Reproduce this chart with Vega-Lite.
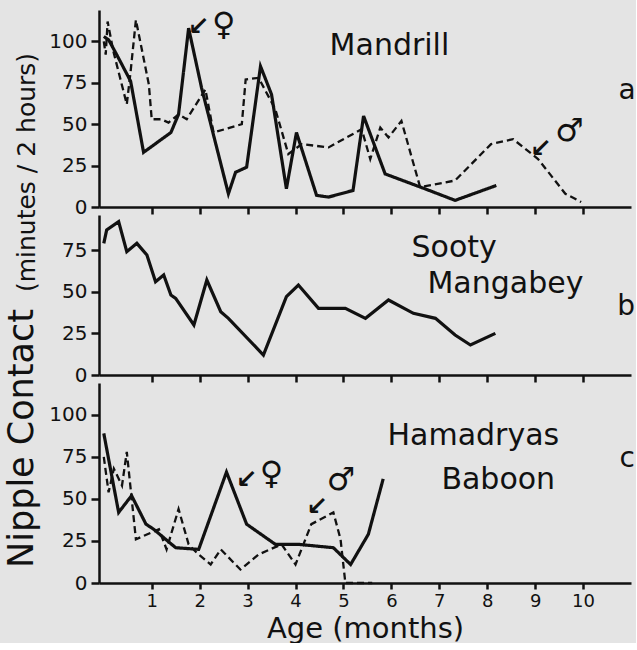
{
  "$schema": "https://vega.github.io/schema/vega-lite/v6.json",
  "background": "#e4e4e4",
  "padding": {"left": 4, "top": 8, "right": 0, "bottom": 0},
  "bounds": "flush",
  "spacing": 8,
  "datasets": {
    "mandrill": [
      {"age": 0.0, "contact": 103, "sex": "female"},
      {"age": 0.1, "contact": 101, "sex": "female"},
      {"age": 0.27, "contact": 92, "sex": "female"},
      {"age": 0.56, "contact": 76, "sex": "female"},
      {"age": 0.83, "contact": 33, "sex": "female"},
      {"age": 1.4, "contact": 45, "sex": "female"},
      {"age": 1.56, "contact": 56, "sex": "female"},
      {"age": 1.77, "contact": 108, "sex": "female"},
      {"age": 2.04, "contact": 72, "sex": "female"},
      {"age": 2.6, "contact": 8, "sex": "female"},
      {"age": 2.75, "contact": 21, "sex": "female"},
      {"age": 2.98, "contact": 24, "sex": "female"},
      {"age": 3.27, "contact": 85, "sex": "female"},
      {"age": 3.5, "contact": 68, "sex": "female"},
      {"age": 3.81, "contact": 11, "sex": "female"},
      {"age": 4.02, "contact": 45, "sex": "female"},
      {"age": 4.44, "contact": 7, "sex": "female"},
      {"age": 4.69, "contact": 6, "sex": "female"},
      {"age": 5.2, "contact": 10, "sex": "female"},
      {"age": 5.42, "contact": 55, "sex": "female"},
      {"age": 5.87, "contact": 20, "sex": "female"},
      {"age": 6.7, "contact": 11, "sex": "female"},
      {"age": 7.33, "contact": 4, "sex": "female"},
      {"age": 8.19, "contact": 13, "sex": "female"},
      {"age": 0.0, "contact": 100, "sex": "male"},
      {"age": 0.04, "contact": 92, "sex": "male"},
      {"age": 0.08, "contact": 112, "sex": "male"},
      {"age": 0.2, "contact": 94, "sex": "male"},
      {"age": 0.48, "contact": 62, "sex": "male"},
      {"age": 0.56, "contact": 82, "sex": "male"},
      {"age": 0.67, "contact": 113, "sex": "male"},
      {"age": 0.94, "contact": 74, "sex": "male"},
      {"age": 1.0, "contact": 53, "sex": "male"},
      {"age": 1.2, "contact": 53, "sex": "male"},
      {"age": 1.35, "contact": 51, "sex": "male"},
      {"age": 1.56, "contact": 56, "sex": "male"},
      {"age": 1.73, "contact": 53, "sex": "male"},
      {"age": 2.12, "contact": 71, "sex": "male"},
      {"age": 2.29, "contact": 45, "sex": "male"},
      {"age": 2.88, "contact": 50, "sex": "male"},
      {"age": 2.96, "contact": 77, "sex": "male"},
      {"age": 3.23, "contact": 78, "sex": "male"},
      {"age": 3.58, "contact": 59, "sex": "male"},
      {"age": 3.85, "contact": 32, "sex": "male"},
      {"age": 4.13, "contact": 38, "sex": "male"},
      {"age": 4.69, "contact": 36, "sex": "male"},
      {"age": 5.38, "contact": 47, "sex": "male"},
      {"age": 5.56, "contact": 29, "sex": "male"},
      {"age": 5.77, "contact": 48, "sex": "male"},
      {"age": 5.94, "contact": 42, "sex": "male"},
      {"age": 6.21, "contact": 52, "sex": "male"},
      {"age": 6.6, "contact": 12, "sex": "male"},
      {"age": 7.33, "contact": 16, "sex": "male"},
      {"age": 8.08, "contact": 38, "sex": "male"},
      {"age": 8.54, "contact": 41, "sex": "male"},
      {"age": 9.06, "contact": 29, "sex": "male"},
      {"age": 9.63, "contact": 8, "sex": "male"},
      {"age": 9.96, "contact": 3, "sex": "male"}
    ],
    "sooty": [
      {"age": 0.0, "contact": 79, "sex": "female"},
      {"age": 0.06, "contact": 87, "sex": "female"},
      {"age": 0.31, "contact": 92, "sex": "female"},
      {"age": 0.48, "contact": 74, "sex": "female"},
      {"age": 0.69, "contact": 79, "sex": "female"},
      {"age": 0.9, "contact": 72, "sex": "female"},
      {"age": 1.08, "contact": 56, "sex": "female"},
      {"age": 1.25, "contact": 60, "sex": "female"},
      {"age": 1.4, "contact": 48, "sex": "female"},
      {"age": 1.5, "contact": 46, "sex": "female"},
      {"age": 1.88, "contact": 30, "sex": "female"},
      {"age": 2.15, "contact": 57, "sex": "female"},
      {"age": 2.44, "contact": 38, "sex": "female"},
      {"age": 2.6, "contact": 34, "sex": "female"},
      {"age": 3.33, "contact": 12, "sex": "female"},
      {"age": 3.81, "contact": 47, "sex": "female"},
      {"age": 4.06, "contact": 54, "sex": "female"},
      {"age": 4.48, "contact": 40, "sex": "female"},
      {"age": 5.04, "contact": 40, "sex": "female"},
      {"age": 5.46, "contact": 34, "sex": "female"},
      {"age": 5.94, "contact": 45, "sex": "female"},
      {"age": 6.46, "contact": 37, "sex": "female"},
      {"age": 6.92, "contact": 34, "sex": "female"},
      {"age": 7.33, "contact": 24, "sex": "female"},
      {"age": 7.65, "contact": 18, "sex": "female"},
      {"age": 8.17, "contact": 25, "sex": "female"}
    ],
    "hamadryas": [
      {"age": 0.0, "contact": 89, "sex": "female"},
      {"age": 0.31, "contact": 42, "sex": "female"},
      {"age": 0.58, "contact": 52, "sex": "female"},
      {"age": 0.88, "contact": 35, "sex": "female"},
      {"age": 1.04, "contact": 32, "sex": "female"},
      {"age": 1.5, "contact": 21, "sex": "female"},
      {"age": 1.98, "contact": 20, "sex": "female"},
      {"age": 2.56, "contact": 66, "sex": "female"},
      {"age": 2.98, "contact": 35, "sex": "female"},
      {"age": 3.58, "contact": 23, "sex": "female"},
      {"age": 4.06, "contact": 23, "sex": "female"},
      {"age": 4.79, "contact": 21, "sex": "female"},
      {"age": 5.15, "contact": 11, "sex": "female"},
      {"age": 5.52, "contact": 29, "sex": "female"},
      {"age": 5.83, "contact": 62, "sex": "female"},
      {"age": 0.0, "contact": 75, "sex": "male"},
      {"age": 0.1, "contact": 54, "sex": "male"},
      {"age": 0.21, "contact": 68, "sex": "male"},
      {"age": 0.38, "contact": 58, "sex": "male"},
      {"age": 0.48, "contact": 78, "sex": "male"},
      {"age": 0.67, "contact": 26, "sex": "male"},
      {"age": 1.15, "contact": 32, "sex": "male"},
      {"age": 1.31, "contact": 20, "sex": "male"},
      {"age": 1.56, "contact": 44, "sex": "male"},
      {"age": 1.77, "contact": 23, "sex": "male"},
      {"age": 1.94, "contact": 18, "sex": "male"},
      {"age": 2.23, "contact": 11, "sex": "male"},
      {"age": 2.44, "contact": 20, "sex": "male"},
      {"age": 2.85, "contact": 8, "sex": "male"},
      {"age": 3.23, "contact": 17, "sex": "male"},
      {"age": 3.71, "contact": 23, "sex": "male"},
      {"age": 4.0, "contact": 11, "sex": "male"},
      {"age": 4.33, "contact": 35, "sex": "male"},
      {"age": 4.79, "contact": 42, "sex": "male"},
      {"age": 4.94, "contact": 26, "sex": "male"},
      {"age": 5.04, "contact": 0, "sex": "male"},
      {"age": 5.6, "contact": 0, "sex": "male"}
    ]
  },
  "vconcat": [
    {
      "width": 532,
      "height": 197,
      "layer": [
        {
          "data": {"name": "mandrill"},
          "mark": {"type": "line", "color": "#111"},
          "encoding": {
            "x": {"field": "age", "type": "quantitative", "scale": {"domain": [-0.1, 11], "nice": false, "zero": false},
              "axis": {"title": null, "labels": false, "values": [1,2,3,4,5,6,7,8,9,10], "tickSize": 7}},
            "y": {"field": "contact", "type": "quantitative", "scale": {"domain": [0, 119], "nice": false},
              "axis": {"title": "(minutes / 2 hours)", "titleFontSize": 25, "titleAngle": 270, "titleX": -73, "titleY": 162, "titleBaseline": "middle", "titleAlign": "center", "values": [0,25,50,75,100], "tickSize": 8, "labelPadding": 4}},
            "detail": {"field": "sex"},
            "strokeDash": {"field": "sex", "scale": {"domain": ["female", "male"], "range": [[1, 0], [7, 4]]}, "legend": null},
            "strokeWidth": {"field": "sex", "scale": {"domain": ["female", "male"], "range": [3.2, 2.3]}, "legend": null}
          }
        },
        {"data": {"values": [{}]}, "mark": {"type": "text", "text": "Mandrill", "fontSize": 30, "align": "center", "baseline": "middle"},
          "encoding": {"x": {"datum": 5.96}, "y": {"datum": 97}}},
        {"data": {"values": [{}]}, "mark": {"type": "text", "text": "a", "fontSize": 28, "align": "center", "baseline": "alphabetic"},
          "encoding": {"x": {"datum": 10.92}, "y": {"datum": 65}}},
        {"data": {"values": [{}]}, "mark": {"type": "text", "text": "♀", "fontSize": 32, "align": "center", "baseline": "middle"},
          "encoding": {"x": {"datum": 2.5}, "y": {"datum": 110}}},
        {"data": {"values": [{}]}, "mark": {"type": "text", "text": "↙", "fontSize": 26, "fontWeight": "bold", "align": "center", "baseline": "middle"},
          "encoding": {"x": {"datum": 1.98}, "y": {"datum": 109}}},
        {"data": {"values": [{}]}, "mark": {"type": "text", "text": "♂", "fontSize": 32, "align": "center", "baseline": "middle"},
          "encoding": {"x": {"datum": 9.72}, "y": {"datum": 46}}},
        {"data": {"values": [{}]}, "mark": {"type": "text", "text": "↙", "fontSize": 26, "fontWeight": "bold", "align": "center", "baseline": "middle"},
          "encoding": {"x": {"datum": 9.12}, "y": {"datum": 35}}}
      ]
    },
    {
      "width": 532,
      "height": 160,
      "layer": [
        {
          "data": {"name": "sooty"},
          "mark": {"type": "line", "color": "#111", "strokeWidth": 3.2},
          "encoding": {
            "x": {"field": "age", "type": "quantitative", "scale": {"domain": [-0.1, 11], "nice": false, "zero": false},
              "axis": {"title": null, "labels": false, "values": [1,2,3,4,5,6,7,8,9,10], "tickSize": 7}},
            "y": {"field": "contact", "type": "quantitative", "scale": {"domain": [0, 96], "nice": false},
              "axis": {"title": null, "values": [0,25,50,75], "tickSize": 8, "labelPadding": 4}}
          }
        },
        {"data": {"values": [{}]}, "mark": {"type": "text", "text": "Sooty", "fontSize": 30, "align": "center", "baseline": "alphabetic"},
          "encoding": {"x": {"datum": 7.31}, "y": {"datum": 71}}},
        {"data": {"values": [{}]}, "mark": {"type": "text", "text": "Mangabey", "fontSize": 30, "align": "center", "baseline": "alphabetic"},
          "encoding": {"x": {"datum": 8.38}, "y": {"datum": 49}}},
        {"data": {"values": [{}]}, "mark": {"type": "text", "text": "b", "fontSize": 28, "align": "center", "baseline": "alphabetic"},
          "encoding": {"x": {"datum": 10.9}, "y": {"datum": 36}}}
      ]
    },
    {
      "width": 532,
      "height": 200,
      "layer": [
        {
          "data": {"name": "hamadryas"},
          "mark": {"type": "line", "color": "#111"},
          "encoding": {
            "x": {"field": "age", "type": "quantitative", "scale": {"domain": [-0.1, 11], "nice": false, "zero": false},
              "axis": {"title": "Age (months)", "titleFontSize": 29, "titlePadding": 4, "values": [1,2,3,4,5,6,7,8,9,10], "tickSize": 6, "labelPadding": 3, "labelFontSize": 18}},
            "y": {"field": "contact", "type": "quantitative", "scale": {"domain": [0, 119], "nice": false},
              "axis": {"title": "Nipple Contact", "titleFontSize": 35, "titleAngle": 270, "titleX": -78, "titleY": 55, "titleBaseline": "middle", "titleAlign": "center", "values": [0,25,50,75,100], "tickSize": 8, "labelPadding": 4}},
            "detail": {"field": "sex"},
            "strokeDash": {"field": "sex", "scale": {"domain": ["female", "male"], "range": [[1, 0], [7, 4]]}, "legend": null},
            "strokeWidth": {"field": "sex", "scale": {"domain": ["female", "male"], "range": [3.2, 2.3]}, "legend": null}
          }
        },
        {"data": {"values": [{}]}, "mark": {"type": "text", "text": "Hamadryas", "fontSize": 30, "align": "center", "baseline": "alphabetic"},
          "encoding": {"x": {"datum": 7.71}, "y": {"datum": 82}}},
        {"data": {"values": [{}]}, "mark": {"type": "text", "text": "Baboon", "fontSize": 30, "align": "center", "baseline": "alphabetic"},
          "encoding": {"x": {"datum": 8.23}, "y": {"datum": 56}}},
        {"data": {"values": [{}]}, "mark": {"type": "text", "text": "c", "fontSize": 28, "align": "center", "baseline": "alphabetic"},
          "encoding": {"x": {"datum": 10.92}, "y": {"datum": 69}}},
        {"data": {"values": [{}]}, "mark": {"type": "text", "text": "♀", "fontSize": 32, "align": "center", "baseline": "middle"},
          "encoding": {"x": {"datum": 3.5}, "y": {"datum": 65}}},
        {"data": {"values": [{}]}, "mark": {"type": "text", "text": "↙", "fontSize": 26, "fontWeight": "bold", "align": "center", "baseline": "middle"},
          "encoding": {"x": {"datum": 2.98}, "y": {"datum": 61}}},
        {"data": {"values": [{}]}, "mark": {"type": "text", "text": "♂", "fontSize": 32, "align": "center", "baseline": "middle"},
          "encoding": {"x": {"datum": 4.95}, "y": {"datum": 61}}},
        {"data": {"values": [{}]}, "mark": {"type": "text", "text": "↙", "fontSize": 26, "fontWeight": "bold", "align": "center", "baseline": "middle"},
          "encoding": {"x": {"datum": 4.45}, "y": {"datum": 45}}}
      ]
    }
  ],
  "resolve": {"scale": {"x": "independent"}},
  "config": {
    "view": {"stroke": null},
    "font": "DejaVu Sans",
    "axis": {"grid": false, "domainColor": "#111", "domainWidth": 2.5, "tickColor": "#111", "tickWidth": 2.5, "labelColor": "#111", "labelFont": "DejaVu Sans", "labelFontSize": 20, "titleColor": "#111", "titleFont": "DejaVu Sans", "titleFontWeight": "normal"},
    "text": {"font": "DejaVu Sans", "color": "#111"}
  }
}
